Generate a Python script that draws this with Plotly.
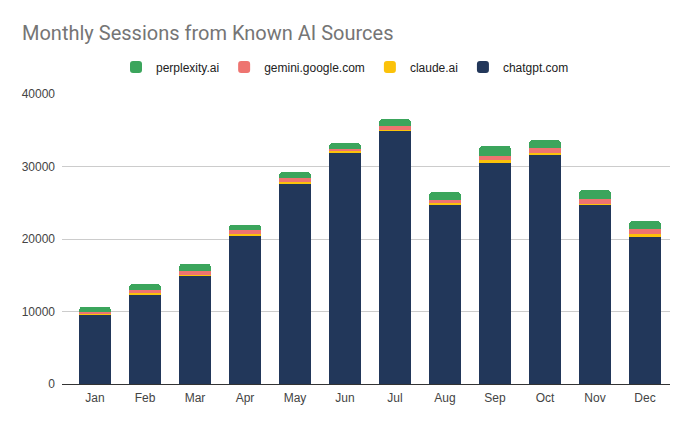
import plotly.graph_objects as go

months = ["Jan", "Feb", "Mar", "Apr", "May", "Jun", "Jul", "Aug", "Sep", "Oct", "Nov", "Dec"]
chatgpt = [9600, 12400, 14900, 20550, 27700, 31950, 34900, 24800, 30600, 31700, 24700, 20400]
claude = [100, 150, 80, 100, 150, 140, 140, 150, 270, 140, 140, 230]
gemini = [250, 400, 550, 600, 520, 360, 550, 450, 600, 740, 690, 740]
perplexity = [700, 830, 1050, 750, 850, 780, 970, 1050, 1380, 1100, 1200, 1100]

series = [
    ("chatgpt.com", chatgpt, "#22375A"),
    ("claude.ai", claude, "#FBC20A"),
    ("gemini.google.com", gemini, "#EE7470"),
    ("perplexity.ai", perplexity, "#3BA55C"),
]

fig = go.Figure()
for name, vals, color in series:
    fig.add_trace(go.Bar(x=months, y=vals, name=name, marker=dict(color=color, line=dict(width=0))))

tickfont = dict(family="Arial, Liberation Sans, sans-serif", size=12, color="#444444")
fig.update_layout(
    width=690, height=426,
    barmode="stack", bargap=0.36, barcornerradius=4,
    paper_bgcolor="white", plot_bgcolor="white",
    margin=dict(l=62, r=20, t=94, b=42, autoexpand=False),
    font=dict(family="Arial, Liberation Sans, sans-serif", size=12, color="#444444"),
    title=dict(text="Monthly Sessions from Known AI Sources", x=22 / 690, xref="container", xanchor="left",
               y=1 - 33 / 426, yanchor="middle", yref="container",
               font=dict(family="Roboto, Arial, sans-serif", size=20, color="#757575")),
    legend=dict(orientation="h", x=0.5, xanchor="center", xref="container", y=1 - 67 / 426, yanchor="middle", yref="container",
                traceorder="reversed", font=dict(family="Arial, Liberation Sans, sans-serif", size=12, color="#222222"),
                itemwidth=30),
    showlegend=True,
)
fig.update_xaxes(range=[-0.66, 11.5], showgrid=False, showline=False, ticks="",
                 tickfont=tickfont, ticklabelstandoff=5)
fig.update_yaxes(range=[0, 40000], dtick=10000, showgrid=True, gridcolor="#CCCCCC", gridwidth=1,
                 zeroline=True, zerolinecolor="#333333", zerolinewidth=1,
                 showline=False, ticks="", tickformat="d", ticklabelstandoff=6,
                 tickfont=tickfont)

fig.write_html("out.html")
